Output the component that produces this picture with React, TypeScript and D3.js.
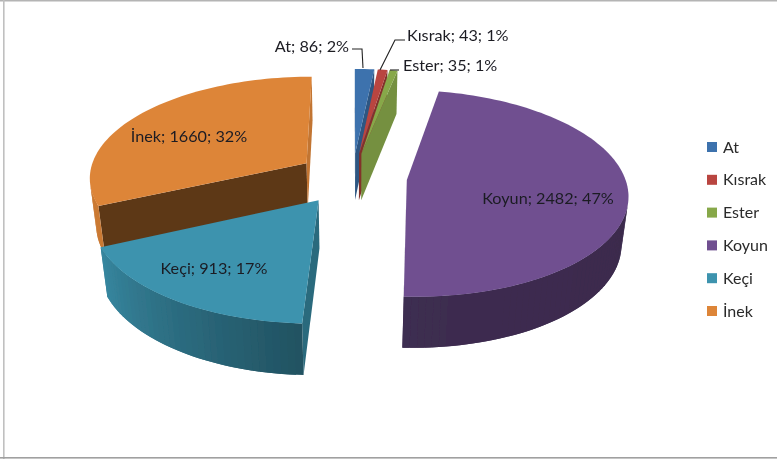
import React from "react";
import * as d3 from "d3";

const categories = ["At", "Kısrak", "Ester", "Koyun", "Keçi", "İnek"];
const values = [86, 43, 35, 2482, 913, 1660];
const percents = [2, 1, 1, 47, 17, 32];
const colors = ["#3d72ad", "#b9443f", "#87a84a", "#6f5090", "#3c93ae", "#dd8539"];

const W = 777, H = 459;
const FONT = "Lato, 'Open Sans', sans-serif";
const CX = 352.5, CY = 177, RX = 218, RY = 101, K = 0.128, DEPTH = 48.5, DEPTH_W = 0.025;
const TAU = Math.PI * 2;
const explode = [0.24, 0.24, 0.24, 0.25, 0.27, 0.255];

const project = (X: number, V: number, z: number): [number, number] => {
  const w = 1 + K * V + DEPTH_W * z;
  return [CX + (RX * X) / w, CY + (-RY * V + DEPTH * z) / w];
};

const arcs = d3.pie<number>().sort(null).startAngle(0).endAngle(TAU)(values);
const line = d3.line();
const shade = d3.scaleLinear().domain([0, 182, 245, 360]).range([0.5, 0.56, 0.92, 0.92]).clamp(true);
const startFaceShade = [0.75, 0.7, 0.8, 0.53, 0.72, 0.42];
const endFaceShade = [0.75, 0.7, 0.86, 0.53, 0.72, 0.88];

const backOrder = [0, 1, 2, 5, 3, 4];
const labelPos = [
  { x: 349, y: 45, a: "end" }, { x: 407, y: 34, a: "start" }, { x: 403, y: 64, a: "start" },
  { x: 548, y: 197, a: "middle" }, { x: 214, y: 267, a: "middle" }, { x: 189, y: 135, a: "middle" },
];
const leaders = [
  [[352, 49], [362, 49], [363, 68]],
  [[405, 40], [395, 40], [380, 70]],
  [[399, 70], [390, 70]],
];
const legendY = d3.scaleLinear().domain([0, 5]).range([146, 310]);

const mix = (c: string, f: number) => d3.interpolateRgb("#000", c)(f);
const cross = (a: number[], b: number[], c: number[]) => (b[0] - a[0]) * (c[1] - a[1]) - (b[1] - a[1]) * (c[0] - a[0]);

function Slice({ i }: { i: number }) {
  const arc = arcs[i];
  const mid = (arc.startAngle + arc.endAngle) / 2;
  const ox = Math.sin(mid) * explode[i], ov = Math.cos(mid) * explode[i];
  const pt = (a: number, z: number) => project(ox + Math.sin(a), ov + Math.cos(a), z);
  const apex = (z: number) => project(ox, ov, z);
  const n = Math.max(3, Math.ceil((arc.endAngle - arc.startAngle) / 0.03));
  const angles = d3.range(n + 1).map((j) => arc.startAngle + ((arc.endAngle - arc.startAngle) * j) / n);
  const c = colors[i];
  const top = [apex(0), ...angles.map((a) => pt(a, 0))];

  const face = (a: number) => [apex(0), pt(a, 0), pt(a, 1), apex(1)] as [number, number][];
  const sideFaces: { f: [number, number][]; col: string }[] = [];
  // Only the radial faces turned to the viewer are drawn
  const s = face(arc.startAngle);
  if (cross(s[0], s[1], s[2]) < 0) sideFaces.push({ f: s, col: mix(c, startFaceShade[i]) });
  const e = face(arc.endAngle);
  if (cross(e[0], e[1], e[2]) > 0) sideFaces.push({ f: e, col: mix(c, endFaceShade[i]) });

  const strips: { q: [number, number][]; deg: number }[] = [];
  for (let j = 0; j < n; j++) {
    const a0 = angles[j], a1 = angles[j + 1], a2 = angles[Math.min(j + 2, n)];
    const q = [pt(a0, 0), pt(a1, 0), pt(a1, 1), pt(a0, 1)] as [number, number][];
    if (cross(q[0], q[1], q[2]) > 0) continue;
    // Each strip runs under the next one, so no seam shows between them
    const over = [pt(a0, 0), pt(a2, 0), pt(a2, 1), pt(a0, 1)] as [number, number][];
    strips.push({ q: over, deg: (a0 * 180) / Math.PI });
  }
  return (
    <g>
      {sideFaces.map(({ f, col }, k) => (
        <path key={k} d={line(f) + "Z"} fill={col} />
      ))}
      {strips.map(({ q, deg }, k) => (
        <path key={k} d={line(q) + "Z"} fill={mix(c, shade(deg))} />
      ))}
      <path d={line(top as [number, number][]) + "Z"} fill={c} />
    </g>
  );
}

export default function App() {
  return (
    <svg width={W} height={H} viewBox={`0 0 ${W} ${H}`} style={{ position: "absolute", left: 0, top: 0, background: "#fff" }} fontFamily={FONT}>
      <defs>
        <filter id="soft" x="0" y="0" width="100%" height="100%">
          <feGaussianBlur stdDeviation="0.5" />
        </filter>
      </defs>
      <g filter="url(#soft)">
        <rect x={0} y={0} width={W} height={1.5} fill="#b4b4b4" />
        <rect x={3} y={0} width={1.6} height={H} fill="#c0c0c0" />
        <rect x={0} y={457} width={W} height={1.6} fill="#a0a0a0" />

        {backOrder.map((i) => <Slice key={i} i={i} />)}

        {leaders.map((l, i) => (
          <path key={i} d={line(l as [number, number][]) as string} fill="none" stroke="#222" strokeWidth={1.1} />
        ))}

        {categories.map((cat, i) => (
          <text key={cat} x={labelPos[i].x} y={labelPos[i].y} textAnchor={labelPos[i].a as "start"} dominantBaseline="central" fontSize={16.2} fill="#1c1c24">
            {`${cat}; ${values[i]}; ${percents[i]}%`}
          </text>
        ))}

        {categories.map((cat, i) => (
          <g key={cat}>
            <rect x={707} y={legendY(i) - 4} width={10} height={10} fill={colors[i]} />
            <text x={723} y={legendY(i)} dominantBaseline="central" fontSize={16} fill="#2a2a2a">{cat}</text>
          </g>
        ))}
      </g>
    </svg>
  );
}
